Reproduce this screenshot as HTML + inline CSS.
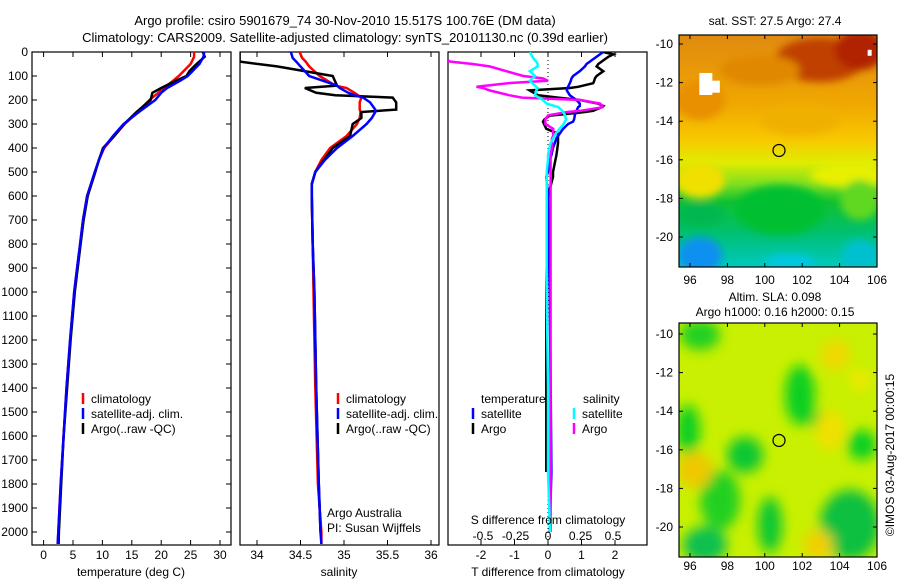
<!DOCTYPE html>
<html><head><meta charset="utf-8"><style>
html,body{margin:0;padding:0;background:#fff}
svg{display:block;font-family:"Liberation Sans",sans-serif;font-size:12px}
</style></head><body>
<svg id="c" width="900" height="580" viewBox="0 0 900 580" xmlns="http://www.w3.org/2000/svg">
<defs>
<filter id="bl" x="-50%" y="-50%" width="200%" height="200%"><feGaussianBlur stdDeviation="6"/></filter>
<filter id="bl2" x="-50%" y="-50%" width="200%" height="200%"><feGaussianBlur stdDeviation="4"/></filter>
<clipPath id="m1c"><rect x="679" y="35" width="198" height="232"/></clipPath>
<clipPath id="m2c"><rect x="679" y="323" width="198" height="234"/></clipPath>
<clipPath id="p1c"><rect x="32" y="52" width="199" height="493"/></clipPath>
<clipPath id="p2c"><rect x="240" y="52" width="199" height="493"/></clipPath>
<clipPath id="p3c"><rect x="448" y="52" width="199" height="493"/></clipPath>
<linearGradient id="sstg" x1="0" y1="0" x2="0" y2="1">
<stop offset="0" stop-color="#e08a10"/><stop offset="0.3" stop-color="#f0a800"/>
<stop offset="0.45" stop-color="#f8c800"/><stop offset="0.55" stop-color="#e0ec00"/>
<stop offset="0.64" stop-color="#80e020"/><stop offset="0.72" stop-color="#10c030"/>
<stop offset="0.85" stop-color="#00c070"/><stop offset="1" stop-color="#00c8c0"/>
</linearGradient>
</defs>
<text x="345" y="25" text-anchor="middle" font-size="13">Argo profile: csiro 5901679_74 30-Nov-2010 15.517S 100.76E (DM data)</text>
<text x="345" y="42" text-anchor="middle" font-size="13">Climatology: CARS2009. Satellite-adjusted climatology: synTS_20101130.nc (0.39d earlier)</text>
<g id="g"></g>
</svg>
<script>
// ---- data ----
const tDepth = [0,20,50,80,100,120,150,170,200,250,300,350,400,450,500,600,700,800,900,1000,1200,1400,1600,1800,2000,2050];
const tClim  = [25.6,25.6,25,23.8,23,22,20.5,19.5,18,16,13.8,12,10.3,9.4,8.7,7.4,6.7,6.2,5.7,5.2,4.5,3.9,3.4,2.9,2.5,2.4];
const tSat   = [27.3,27.2,26.5,25.3,24.5,23.2,21,20,19,16.2,13.6,11.8,10.2,9.4,8.7,7.4,6.7,6.2,5.7,5.2,4.5,3.9,3.4,2.9,2.5,2.4];
const tArgo  = [27.1,27.4,26,24.8,24.3,22.5,20,18.5,18.2,15.8,13.7,12,10.1,9.4,8.8,7.5,6.8,6.3,5.8,5.3,4.6,4,3.4,3,2.6,2.55];
const sDepth = [0,25,40,60,100,140,150,170,180,190,210,240,250,275,300,350,400,450,500,550,600,800,1000,1400,1800,2000,2050];
const sClim  = [34.49,34.52,34.56,34.6,34.72,34.9,35.03,35.12,35.16,35.2,35.18,35.18,35.19,35.18,35.15,35.03,34.84,34.74,34.67,34.63,34.63,34.64,34.65,34.67,34.7,34.74,34.74];
const sSat   = [34.39,34.41,34.45,34.5,34.6,34.92,34.95,35.05,35.12,35.22,35.3,35.36,35.36,35.32,35.26,35.1,34.92,34.78,34.67,34.63,34.63,34.64,34.66,34.68,34.71,34.73,34.74];
const sArgo  = [33.8,33.8,33.8,34.23,34.87,34.92,34.55,34.68,34.9,35.56,35.6,35.6,35.2,35.2,35.1,35.07,34.87,34.77,34.67,34.63,34.63,34.64,34.66,34.68,34.71,34.73,null];
const dDepth = [0,10,20,35,40,50,60,80,100,110,120,130,145,150,160,180,190,200,215,225,230,245,250,262,265,280,290,300,320,340,350,360,380,400,430,450,500,520,600,1000,1400,1750,2000];
const dTSat  = [1.65,1.55,1.45,1.3,1.25,1.15,1.1,0.95,0.75,0.7,0.68,0.65,0.6,0.58,0.56,0.65,0.75,0.85,0.95,0.95,0.9,0.85,0.85,0.8,0.8,0.78,0.75,0.6,0.45,0.35,0.3,0.25,0.2,0.15,0.1,0.05,0,-0.05,0,0.05,0.08,0.1,0.05];
const dTArgo = [1.65,1.95,1.8,1.65,1.6,1.5,1.45,1.65,1.45,1.4,1.38,1.35,0.9,0.65,-0.55,-0.3,0.3,0.95,1.5,1.65,1.6,1.35,1.1,0.3,0.05,-0.1,-0.15,-0.12,-0.05,0.3,0.3,0.3,0.3,0.28,0.25,0.22,0.15,0.15,0,-0.05,-0.05,-0.05,null];
const dSSat  = [-0.14,-0.13,-0.12,-0.1,-0.09,-0.08,-0.08,-0.14,-0.1,-0.12,-0.14,-0.12,-0.09,-0.08,-0.09,-0.1,-0.07,-0.04,-0.01,0.05,0.08,0.11,0.115,0.13,0.13,0.14,0.13,0.12,0.09,0.06,0.05,0.04,0.02,0.01,0.0,0.0,-0.01,-0.01,-0.01,-0.01,0.0,0.0,0.015];
const dSArgo = [null,null,null,-0.77,-0.75,-0.58,-0.45,-0.32,-0.19,-0.04,0,-0.31,-0.55,-0.5,-0.45,-0.3,-0.2,0.25,0.4,0.42,0.42,0.25,0.15,0.02,0.0,-0.02,-0.02,-0.02,0.04,0.04,0.04,0.03,0.03,0.03,0.02,0.02,0.02,0.02,0.02,0.02,0.02,0.02,0.02];
const depthTicks = [0,100,200,300,400,500,600,700,800,900,1000,1100,1200,1300,1400,1500,1600,1700,1800,1900,2000];
const tTicks = [0,5,10,15,20,25,30];
const sTicks = [34,34.5,35,35.5,36];
const sTickLabels = ["34","34.5","35","35.5","36"];
const dTTicks = [-2,-1,0,1,2];
const dSTicks = [-0.5,-0.25,0,0.25,0.5];
const dSTickLabels = ["-0.5","-0.25","0","0.25","0.5"];
const lonTicks = [96,98,100,102,104,106];
const latTicks = [-10,-12,-14,-16,-18,-20];
const floatLon = 100.76, floatLat = -15.517;

// ---- scales ----
const yD = d => 52 + d*0.24;
const xT = v => 43.6 + v*5.88;
const xS = v => 257 + (v-34)*87;
const xDT = v => 548 + v*33.5;
const xDS = v => 548 + v*130;
const mx = lon => 690 + (lon-96)*18.7;
const my1 = lat => 44 + (-10-lat)*19.3;
const my2 = lat => 334 + (-10-lat)*19.3;

const NS="http://www.w3.org/2000/svg";
const G=document.getElementById('g');
function el(tag,attrs,parent,text){const e=document.createElementNS(NS,tag);for(const k in attrs)e.setAttribute(k,attrs[k]);if(text!==undefined)e.textContent=text;(parent||G).appendChild(e);return e;}
function line(depths,vals,xf,color,name,clip,w){
  let d="",pen=false;
  for(let i=0;i<depths.length;i++){const v=vals[i];if(v===null||v===undefined){pen=false;continue;}
    d+=(pen?"L":"M")+xf(v).toFixed(1)+","+yD(depths[i]).toFixed(1);pen=true;}
  const p=el('path',{d:d,fill:'none',stroke:color,'stroke-width':w||2.5,'clip-path':'url(#'+clip+')'});
  
  
}
function frame(x,name){const r=el('rect',{x:x,y:52,width:199,height:493,fill:'none',stroke:'#000','stroke-width':1.2});
  
  }
function xticks(vals,xf,labels,ly,name){
  vals.forEach((v,i)=>{const x=xf(v);
    el('line',{x1:x,y1:52,x2:x,y2:57,stroke:'#000'});el('line',{x1:x,y1:545,x2:x,y2:540,stroke:'#000'});
    const t=el('text',{x:x,y:ly,'text-anchor':'middle'},G,labels?labels[i]:String(v));
    
    });
}
function legendRow(x,y,color,txt,name){
  el('line',{x1:x,y1:y-10,x2:x,y2:y+1,stroke:color,'stroke-width':2.5});
  const t=el('text',{x:x+8,y:y},G,txt);
  
  
}

// panel 1
frame(32,'temperature-panel');
depthTicks.forEach(d=>{const y=yD(d);el('line',{x1:32,y1:y,x2:37,y2:y,stroke:'#000'});el('line',{x1:231,y1:y,x2:226,y2:y,stroke:'#000'});
  const t=el('text',{x:28,y:y+4,'text-anchor':'end'},G,String(d));
  
  });
xticks(tTicks,xT,null,559,'temperature-tick-label');
line(tDepth,tClim,xT,'#f00','temperature-climatology-line','p1c');
line(tDepth,tArgo,xT,'#000','temperature-argo-line','p1c');
line(tDepth,tSat,xT,'#00f','temperature-satellite-line','p1c');
el('text',{x:131,y:576,'text-anchor':'middle',},G,'temperature (deg C)');
legendRow(83,403,'#f00','climatology','legend-climatology');
legendRow(83,418,'#00f','satellite-adj. clim.','legend-satellite');
legendRow(83,433,'#000','Argo(..raw -QC)','legend-argo');

// panel 2
frame(240,'salinity-panel');
xticks(sTicks,xS,sTickLabels,559,'salinity-tick-label');
line(sDepth,sClim,xS,'#f00','salinity-climatology-line','p2c');
line(sDepth,sArgo,xS,'#000','salinity-argo-line','p2c');
line(sDepth,sSat,xS,'#00f','salinity-satellite-line','p2c');
el('text',{x:339,y:576,'text-anchor':'middle',},G,'salinity');
legendRow(338,403,'#f00','climatology','legend-climatology-2');
legendRow(338,418,'#00f','satellite-adj. clim.','legend-satellite-2');
legendRow(338,433,'#000','Argo(..raw -QC)','legend-argo-2');
el('text',{x:327,y:517,},G,'Argo Australia');
el('text',{x:327,y:532,},G,'PI: Susan Wijffels');

// panel 3
frame(448,'difference-panel');
el('line',{x1:548,y1:52,x2:548,y2:545,stroke:'#000','stroke-dasharray':'1,3'});
dTTicks.forEach(v=>{const x=xDT(v);el('line',{x1:x,y1:52,x2:x,y2:57,stroke:'#000'});el('line',{x1:x,y1:545,x2:x,y2:540,stroke:'#000'});
  const t=el('text',{x:x,y:559,'text-anchor':'middle'},G,String(v));
  
  });
line(dDepth,dTArgo,xDT,'#000','t-diff-argo-line','p3c');
line(dDepth,dTSat,xDT,'#00f','t-diff-satellite-line','p3c');
line(dDepth,dSArgo,xDS,'#f0f','s-diff-argo-line','p3c');
line(dDepth,dSSat,xDS,'#0ff','s-diff-satellite-line','p3c');
dSTicks.forEach((v,i)=>{const t=el('text',{x:xDS(v),y:540,'text-anchor':'middle'},G,dSTickLabels[i]);
  
  });
el('text',{x:548,y:524,'text-anchor':'middle',},G,'S difference from climatology');
el('text',{x:548,y:576,'text-anchor':'middle',},G,'T difference from climatology');
el('text',{x:481,y:403,},G,'temperature');
el('text',{x:583,y:403,},G,'salinity');
legendRow(473,418,'#00f','satellite','legend-t-satellite');
legendRow(473,433,'#000','Argo','legend-t-argo');
legendRow(574,418,'#0ff','satellite','legend-s-satellite');
legendRow(574,433,'#f0f','Argo','legend-s-argo');

// maps
function mapAxes(top,bot,myf,lonY,name){
  const r=el('rect',{x:679,y:top,width:198,height:bot-top,fill:'none',stroke:'#000','stroke-width':1.2});
  
  
  lonTicks.forEach(v=>{const x=mx(v);el('line',{x1:x,y1:top,x2:x,y2:top+4,stroke:'#000'});el('line',{x1:x,y1:bot,x2:x,y2:bot-4,stroke:'#000'});
    const t=el('text',{x:x,y:lonY,'text-anchor':'middle'},G,String(v));
    
    });
  latTicks.forEach(v=>{const y=myf(v);el('line',{x1:679,y1:y,x2:683,y2:y,stroke:'#000'});el('line',{x1:877,y1:y,x2:873,y2:y,stroke:'#000'});
    const t=el('text',{x:673,y:y+4,'text-anchor':'end'},G,String(v));
    
    });
  const c=el('circle',{cx:mx(floatLon),cy:myf(floatLat),r:6,fill:'none',stroke:'#000','stroke-width':1.2});
  
  
}
const m1=el('g',{'clip-path':'url(#m1c)',});
el('rect',{x:679,y:35,width:198,height:232,fill:'url(#sstg)'},m1);
const b1=el('g',{filter:'url(#bl2)'},m1);
[[820,60,45,22,'#c04000'],[860,50,25,20,'#b02000'],[760,70,40,15,'#e08800'],[700,100,25,20,'#e89000'],[800,120,40,15,'#f0b000'],
 [700,180,25,18,'#f0e000'],[850,175,40,12,'#e8f000'],[780,210,45,25,'#00c030'],[860,200,20,20,'#60d820'],
 [700,215,25,12,'#00b850'],[700,255,22,18,'#1090f0'],[790,262,25,8,'#00c8e0'],[860,255,18,15,'#00c0d0']]
 .forEach(a=>el('ellipse',{cx:a[0],cy:a[1],rx:a[2],ry:a[3],fill:a[4]},b1));
el('rect',{x:mx(96.5),y:my1(-11.5),width:13,height:22,fill:'#fff'},m1);
el('rect',{x:mx(96.9),y:my1(-11.9),width:13,height:12,fill:'#fff'},m1);
el('rect',{x:mx(105.5),y:my1(-10.3),width:4,height:6,fill:'#fff'},m1);
el('text',{x:775,y:25,'text-anchor':'middle',},G,'sat. SST: 27.5 Argo: 27.4');
mapAxes(35,267,my1,284,'sst-map-frame');

const m2=el('g',{'clip-path':'url(#m2c)',});
el('rect',{x:679,y:323,width:198,height:234,fill:'#c8f000'},m2);
const b2=el('g',{filter:'url(#bl)'},m2);
[[700,335,20,15,'#20d020'],[800,395,15,30,'#10d020'],[822,420,15,10,'#20d020'],[688,430,12,25,'#10d020'],[745,455,18,18,'#10c830'],
 [862,445,15,15,'#10d020'],[720,500,20,30,'#20d020'],[705,545,22,18,'#10c050'],[770,525,12,28,'#10c830'],[850,525,30,35,'#10c040'],
 [695,470,18,18,'#f0c800'],[835,355,15,15,'#f0d800'],[830,430,15,20,'#f0e000'],[818,545,15,15,'#f0d000'],[860,380,10,10,'#f0e800']]
 .forEach(a=>el('ellipse',{cx:a[0],cy:a[1],rx:a[2],ry:a[3],fill:a[4]},b2));
el('text',{x:775,y:301,'text-anchor':'middle',},G,'Altim. SLA: 0.098');
el('text',{x:775,y:316,'text-anchor':'middle',},G,'Argo h1000: 0.16 h2000: 0.15');
mapAxes(323,557,my2,570,'sla-map-frame');
el('text',{x:894,y:455,'text-anchor':'middle',transform:'rotate(-90 894 455)',},G,'©IMOS 03-Aug-2017 00:00:15');
</script>
</body></html>
